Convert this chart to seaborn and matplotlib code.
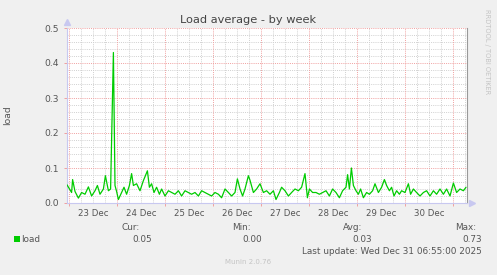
import numpy as np
import pandas as pd
import matplotlib
matplotlib.use("Agg")
import matplotlib.pyplot as plt
import matplotlib.transforms as mtransforms
from matplotlib.patches import Rectangle
import seaborn as sns

# ---------------- data ----------------
start = pd.Timestamp("2025-12-22 22:55")
end = pd.Timestamp("2025-12-31 06:55")

hours = [0, 1.5, 2.3, 2.8, 4, 5.7, 7.3, 9, 10.7, 12.3, 14, 15.2, 16.5, 18.2, 19.2,
         20.7, 21.8, 23.2, 24, 24.8, 25.7, 27.3, 28.5, 29.8, 31.2, 32.3, 33.2, 34.8,
         36.5, 38.2, 40.2, 41.2, 42.3, 43.5, 44.8, 46.2, 47.3, 49, 50.7, 52.3, 54,
         55.7, 57.3, 59, 60.7, 62.3, 64, 65.7, 67.3, 69, 70.7, 72.3, 74, 75.7, 77.3,
         79, 80.7, 82.3, 84, 85.2, 86.5, 87.8, 89, 90.7,
         91.5, 93.2, 94.8, 96.5, 98.2, 99.8, 101.5, 103.2, 104.5, 106.2, 107.3, 109,
         110.7, 112.3, 114, 115.7, 117.3, 119, 120.2, 121.2, 122.8, 124.5, 126.2,
         127.8, 129.5, 131.2, 132.8, 134.5, 136.2, 137.8, 139.5, 140.3, 141.2, 142.2,
         143.2, 144.5, 145.7, 146.8, 148.2, 149.8, 151.2, 152.8, 154, 155.7, 157.3,
         158.7, 159.8, 161.2, 162.3, 163.5, 164.8, 166.2, 167.3, 169, 170.7, 171.8,
         173.2, 174.8, 176.5, 178.2, 179.8, 181.5, 183.2, 184.8, 186.5, 188.2, 189.8,
         191.5, 193.2, 194.8, 196.5, 198.2, 199.5]

load = [0.052, 0.038, 0.030, 0.067, 0.033, 0.014, 0.030, 0.025, 0.046, 0.020, 0.035,
        0.050, 0.025, 0.040, 0.078, 0.035, 0.040, 0.430, 0.050, 0.033, 0.010, 0.030,
        0.045, 0.025, 0.050, 0.084, 0.050, 0.055, 0.035, 0.064, 0.092, 0.045, 0.055,
        0.030, 0.045, 0.025, 0.040, 0.020, 0.035, 0.030, 0.025, 0.035, 0.020, 0.035,
        0.030, 0.025, 0.030, 0.020, 0.035, 0.030, 0.025, 0.020, 0.030, 0.025, 0.015,
        0.040, 0.030, 0.020, 0.030, 0.069, 0.040, 0.020, 0.040, 0.078,
        0.065, 0.030, 0.040, 0.055, 0.030, 0.035, 0.025, 0.035, 0.010, 0.030, 0.045,
        0.035, 0.020, 0.030, 0.040, 0.035, 0.045, 0.084, 0.015, 0.040, 0.030, 0.030,
        0.025, 0.030, 0.035, 0.020, 0.040, 0.030, 0.015, 0.035, 0.045, 0.081, 0.040,
        0.100, 0.050, 0.035, 0.025, 0.040, 0.015, 0.030, 0.025, 0.035, 0.055, 0.030,
        0.045, 0.067, 0.050, 0.035, 0.045, 0.020, 0.035, 0.025, 0.035, 0.030, 0.055,
        0.025, 0.040, 0.030, 0.020, 0.030, 0.035, 0.020, 0.035, 0.025, 0.040, 0.025,
        0.040, 0.020, 0.057, 0.030, 0.040, 0.035, 0.045]

day_labels = ["23 Dec", "24 Dec", "25 Dec", "26 Dec", "27 Dec", "28 Dec", "29 Dec", "30 Dec"]
y_ticks = [0.0, 0.1, 0.2, 0.3, 0.4, 0.5]
stat_names = ["Cur:", "Min:", "Avg:", "Max:"]
stat_values = ["0.05", "0.00", "0.03", "0.73"]
series_name = "load"
title = "Load average - by week"
last_update = "Last update: Wed Dec 31 06:55:00 2025"
footer = "Munin 2.0.76"
side_text = "RRDTOOL / TOBI OETIKER"

df = pd.DataFrame({"time": start + pd.to_timedelta(hours, unit="h"), "load": load})

# ---------------- style ----------------
sns.set_style("white")
plt.rcParams["font.family"] = ["DejaVu Sans"]

W, H = 497, 275
bg = "#F0F0F0"
txt = "#555555"
line_color = "#00CC00"
fig = plt.figure(figsize=(W / 100, H / 100), dpi=100, facecolor=bg)
L, R, T, B = 67, 467, 28, 203
ax = fig.add_axes([L / W, 1 - B / H, (R - L) / W, (B - T) / H])
ax.set_facecolor("white")

# grid lines (drawn under the data)
dot = (0, (1, 1.2))
days = pd.date_range(start.ceil("D"), end.floor("D"), freq="D")
six = pd.date_range(start.ceil("6h"), end, freq="6h")
for t in six:
    if t.hour != 0:
        ax.axvline(t, color="#D0D0D0", lw=0.7, ls=dot, zorder=0)
for t in days:
    ax.axvline(t, color="#F0A0A0", lw=0.7, ls=dot, zorder=0.5)
for v in np.arange(0, 0.5001, 0.02):
    if abs(v * 10 - round(v * 10)) > 1e-6:
        ax.axhline(v, color="#D0D0D0", lw=0.7, ls=dot, zorder=0)
for v in y_ticks[1:]:
    ax.axhline(v, color="#F0A0A0", lw=0.7, ls=dot, zorder=0.5)

sns.lineplot(data=df, x="time", y="load", ax=ax, color=line_color, lw=0.9, zorder=3)

ax.set_xlim(start, end)
ax.set_ylim(0, 0.5)
ax.set_xlabel("")
ax.set_ylabel("")

# ticks
ax.set_yticks(y_ticks)
ax.set_yticklabels([f"{v:.1f}" for v in y_ticks])
ax.tick_params(axis="y", length=2, width=0.7, color="#F0A0A0", pad=4,
               labelsize=6.6, labelcolor=txt, left=True)
ax.set_xticks(days)
ax.set_xticklabels([""] * len(days))
ax.tick_params(axis="x", length=2, width=0.7, color="#F0A0A0", bottom=True, pad=1)

trans = mtransforms.blended_transform_factory(ax.transData, fig.transFigure)
for d, lab in zip(days, day_labels):
    ax.text(d + pd.Timedelta(hours=12), 1 - 213 / H, lab, transform=trans,
            ha="center", va="center", fontsize=6.2, color=txt)

# spines
ax.spines["top"].set_visible(False)
ax.spines["left"].set_color("#C8C8F0")
ax.spines["bottom"].set_color("#C8C8F0")
ax.spines["right"].set_color("#999999")
for s in ["left", "bottom", "right"]:
    ax.spines[s].set_linewidth(0.8)
# arrow heads
ax.plot([0], [1.035], marker="^", ms=4, color="#C8C8F0", transform=ax.transAxes, clip_on=False)
ax.plot([1.012], [0], marker=">", ms=4, color="#C8C8F0", transform=ax.transAxes, clip_on=False)

# texts
def ftext(x, y, s, **kw):
    fig.text(x / W, 1 - y / H, s, **kw)

ftext(248, 20, title, ha="center", va="center", fontsize=8.2, color="#444444")
ftext(8, 115, series_name, ha="center", va="center", rotation=90, fontsize=6.6, color=txt)
ftext(487, 52, side_text, ha="center", va="center", rotation=270, fontsize=4.8, color="#C4C4C4")

# legend swatch
fig.patches.append(Rectangle((14 / W, 1 - 242 / H), 6 / W, 6 / H, transform=fig.transFigure,
                             facecolor=line_color, edgecolor="none"))
ftext(21, 239, series_name, ha="left", va="center", fontsize=6.4, color=txt)
name_x = [140, 251, 362, 476]
val_x = [152, 262, 372, 482]
for nx, vx, n, v in zip(name_x, val_x, stat_names, stat_values):
    ftext(nx, 227, n, ha="right", va="center", fontsize=6.4, color=txt)
    ftext(vx, 239, v, ha="right", va="center", fontsize=6.4, color=txt)
ftext(482, 251, last_update, ha="right", va="center", fontsize=6.4, color=txt)
ftext(248, 262, footer, ha="center", va="center", fontsize=5, color="#C4C4C4")

fig.savefig("out.png", dpi=100, facecolor=bg)
